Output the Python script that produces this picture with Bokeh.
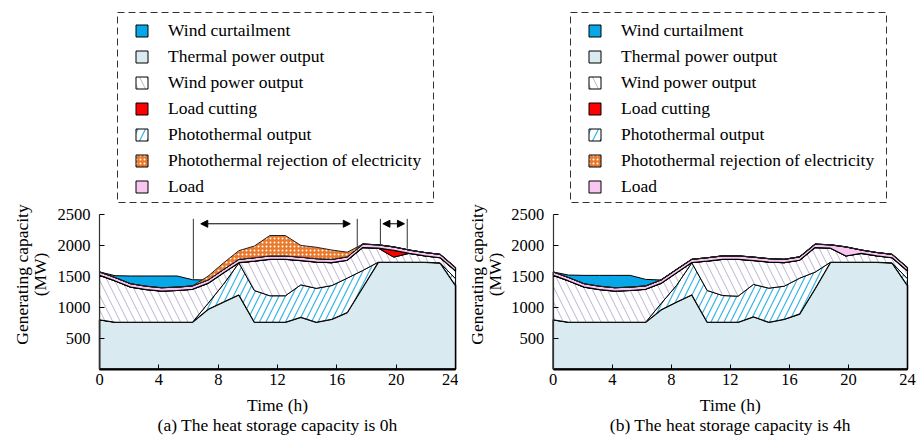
import numpy as np
from bokeh.plotting import figure
from bokeh.layouts import row
from bokeh.models import (Range1d, FixedTicker, Legend, LegendItem, Label,
                          Arrow, NormalHead)
from bokeh.embed import file_html
from bokeh.resources import INLINE

# ---------------- data (MW), 24 scheduling periods spread over 0-24 h ----------------
periods = list(range(24))
hours = [k * 24 / 23 for k in periods]

load = [1570, 1480, 1380, 1340, 1315, 1325, 1345, 1440, 1610, 1775, 1800, 1830,
        1830, 1810, 1785, 1775, 1815, 2020, 2010, 1975, 1925, 1885, 1855, 1640]

# (a) heat storage capacity 0 h
thermal_a = [796, 757, 757, 757, 757, 757, 757, 965, 1085, 1200, 757, 757,
             757, 838, 757, 805, 915, 1320, 1728, 1728, 1728, 1728, 1718, 1350]
photo_a = [0, 0, 0, 0, 0, 0, 0, 95, 285, 515, 513, 428,
           428, 524, 548, 545, 555, 274, 0, 0, 0, 0, 0, 110]
wind_a = [719, 668, 568, 528, 503, 513, 533, 325, 185, 5, 475, 590,
          590, 393, 425, 370, 290, 371, 227, 82, 142, 102, 82, 125]
cut_a = [0, 0, 0, 0, 0, 0, 0, 0, 0, 0, 0, 0,
         0, 0, 0, 0, 0, 0, 0, 110, 0, 0, 0, 0]
curt_a = [0, 30, 125, 165, 190, 180, 100, 0, 0, 0, 0, 0,
          0, 0, 0, 0, 0, 0, 0, 0, 0, 0, 0, 0]
reject_a = [0, 0, 0, 0, 0, 0, 0, 60, 105, 140, 190, 330,
            330, 190, 185, 150, 75, 0, 0, 0, 0, 0, 0, 0]

# (b) heat storage capacity 4 h
thermal_b = [796, 757, 757, 757, 757, 757, 757, 958, 1083, 1200, 757, 757,
             757, 845, 757, 805, 892, 1300, 1728, 1728, 1728, 1728, 1718, 1351]
photo_b = [0, 0, 0, 0, 0, 0, 0, 100, 268, 518, 513, 432,
           421, 524, 551, 535, 578, 267, 0, 0, 0, 0, 0, 109]
wind_b = [719, 668, 568, 528, 503, 513, 533, 327, 204, 5, 475, 586,
          597, 386, 422, 380, 290, 398, 227, 101, 142, 102, 82, 125]
cut_b = [0] * 24
curt_b = [0, 40, 135, 175, 200, 190, 105, 0, 0, 0, 0, 0,
          0, 0, 0, 0, 0, 0, 0, 0, 0, 0, 0, 0]
reject_b = [0] * 24

x_ticks = [0, 4, 8, 12, 16, 20, 24]
y_ticks = [500, 1000, 1500, 2000, 2500]

# period markers of panel (a): vertical guide lines and double arrows
guide_hours_a = [6.32, 17.37, 18.93, 20.74]
guide_bottom_a = [1460, 1915, 1995, 1945]
guide_top = 2430
arrows_a = [(6.82, 16.9), (19.1, 20.55)]
arrow_level = 2350

legend_labels = ["Wind curtailment", "Thermal power output", "Wind power output",
                 "Load cutting", "Photothermal output",
                 "Photothermal rejection of electricity", "Load"]

FONT = "Liberation Serif"
C_THERMAL = "#d9eaf0"
C_CURT = "#08a8e8"
C_RED = "#ff0000"
C_PINK = "#f8c6f1"
C_ORANGE = "#e9792b"
C_PHOTO = "#35b4e4"
C_WINDH = "#bcb4cc"

H = 439
AXIS_Y = 368.5          # pixel row of the x axis (0 MW)
PX_PER_MW = 0.0618      # 2500 MW sits 154.5 px above the x axis


def band(p, x, lo, hi, **kw):
    xs = list(x) + list(x)[::-1]
    ys = list(hi) + list(lo)[::-1]
    return p.patch(xs, ys, **kw)


def panel(width, axis_left, axis_len, thermal, photo, wind, cut, curt, reject, caption,
          box_left, ylab_x, guides=None):
    pxh = axis_len / 24.0
    p = figure(width=width, height=H, output_backend="svg", toolbar_location=None,
               x_range=Range1d(-axis_left / pxh, (width - axis_left) / pxh),
               y_range=Range1d(-(H - AXIS_Y) / PX_PER_MW, AXIS_Y / PX_PER_MW),
               min_border=0, min_border_left=0, min_border_right=0,
               min_border_top=0, min_border_bottom=0)
    p.outline_line_color = None
    p.xgrid.visible = False
    p.ygrid.visible = False
    p.background_fill_color = "white"
    p.border_fill_color = "white"

    def hx(px):      # canvas pixel column -> hours
        return (px - axis_left) / pxh

    def my(py):      # canvas pixel row -> MW
        return (AXIS_Y - py) / PX_PER_MW

    x = np.array(hours)
    t = np.array(thermal, float)
    tp = t + np.array(photo, float)
    s = tp + np.array(wind, float)
    sc = s + np.array(cut, float)
    ld = np.array(load, float)
    zero = np.zeros_like(t)

    band(p, x, zero, t, fill_color=C_THERMAL, line_color="black", line_width=1.6)
    band(p, x, t, tp, fill_color="white", hatch_pattern="right_diagonal_line",
         hatch_color=C_PHOTO, hatch_scale=13, hatch_weight=1.2,
         line_color="black", line_width=1)
    band(p, x, tp, s, fill_color="white", hatch_pattern="left_diagonal_line",
         hatch_color=C_WINDH, hatch_scale=15, hatch_weight=1,
         line_color="black", line_width=1)
    band(p, x, s, sc, fill_color=C_RED, line_color="black", line_width=1)
    band(p, x, sc, ld, fill_color=C_PINK, line_color="black", line_width=1.2)
    band(p, x, ld, ld + np.array(curt, float), fill_color=C_CURT,
         line_color="black", line_width=1)
    band(p, x, ld, ld + np.array(reject, float), fill_color=C_ORANGE,
         hatch_pattern="dot", hatch_color="white", hatch_scale=4, hatch_weight=1.2,
         line_color="#222222", line_width=1)

    if guides:
        gh, gb = guides
        p.segment(x0=gh, y0=gb, x1=gh, y1=[guide_top] * len(gh),
                  line_color="#333333", line_width=1)
        for (a0, a1) in arrows_a:
            p.add_layout(Arrow(start=NormalHead(size=7, fill_color="black", line_color="black"),
                               end=NormalHead(size=7, fill_color="black", line_color="black"),
                               x_start=a0, y_start=arrow_level, x_end=a1, y_end=arrow_level,
                               line_color="black", line_width=1))

    # dashed legend frame
    p.quad(left=[hx(box_left)], right=[hx(box_left + 316)], top=[my(12)], bottom=[my(202)],
           fill_alpha=0, line_color="#333333", line_width=1, line_dash="7 4")

    # legend (area swatches kept out of view; only their legend glyphs show)
    styles = [
        dict(fill_color=C_CURT),
        dict(fill_color=C_THERMAL),
        dict(fill_color="white", hatch_pattern="left_diagonal_line", hatch_color=C_WINDH,
             hatch_scale=15, hatch_weight=1),
        dict(fill_color=C_RED),
        dict(fill_color="white", hatch_pattern="right_diagonal_line", hatch_color=C_PHOTO,
             hatch_scale=15, hatch_weight=1.2),
        dict(fill_color=C_ORANGE, hatch_pattern="dot", hatch_color="white",
             hatch_scale=4, hatch_weight=1),
        dict(fill_color=C_PINK),
    ]
    items = []
    for lab, st in zip(legend_labels, styles):
        r = p.quad(left=[0], right=[1], top=[-1e6], bottom=[-1e6 - 1],
                   line_color="black", line_width=1, **st)
        items.append(LegendItem(label=lab, renderers=[r]))
    leg = Legend(items=items, location=(box_left + 17, H - 196.5), padding=0, spacing=5,
                 margin=0, glyph_width=15, glyph_height=15, label_height=21,
                 label_standoff=19, label_text_font=FONT, label_text_font_size="17.5px",
                 label_text_color="black", label_text_baseline="middle",
                 border_line_alpha=0, background_fill_alpha=0)
    p.add_layout(leg, "center")

    # axes, drawn at 0 h / 0 MW
    for ax in (p.xaxis[0], p.yaxis[0]):
        ax.fixed_location = 0
        ax.major_tick_in = 5
        ax.major_tick_out = 0
        ax.minor_tick_in = 0
        ax.minor_tick_out = 0
        ax.major_tick_line_color = "black"
        ax.major_label_text_font = FONT
        ax.major_label_text_font_size = "16.5px"
        ax.major_label_text_color = "black"
    p.xaxis.ticker = FixedTicker(ticks=x_ticks)
    p.yaxis.ticker = FixedTicker(ticks=y_ticks)
    p.xaxis.bounds = (0, 24)
    p.yaxis.bounds = (0, 2500)
    p.xaxis.axis_line_width = 2.2
    p.xaxis.axis_line_color = "black"
    p.yaxis.axis_line_width = 1.2
    p.yaxis.axis_line_color = "#333333"
    p.xaxis.major_label_standoff = 5
    p.yaxis.major_label_standoff = 9

    common = dict(x_units="screen", y_units="screen", text_font=FONT,
                  text_font_size="17.5px", text_color="black",
                  text_align="center", text_baseline="middle")
    cx = axis_left + axis_len / 2
    p.add_layout(Label(x=cx, y=H - 404, text="Time (h)", **common))
    p.add_layout(Label(x=cx, y=H - 424, text=caption, **common))
    p.add_layout(Label(x=ylab_x[0], y=H - 274, text="Generating capacity",
                       angle=np.pi / 2, **common))
    p.add_layout(Label(x=ylab_x[1], y=H - 274, text="(MW)", angle=np.pi / 2, **common))
    return p


pa = panel(458, 99.1, 356, thermal_a, photo_a, wind_a, cut_a, curt_a, reject_a,
           "(a) The heat storage capacity is 0h", 117, (21, 39),
           guides=(guide_hours_a, guide_bottom_a))
pb = panel(459, 94.7, 354.3, thermal_b, photo_b, wind_b, cut_b, curt_b, reject_b,
           "(b) The heat storage capacity is 4h", 112, (18, 36))

layout = row(pa, pb, spacing=0)
open("out.html", "w").write(file_html(layout, INLINE))
